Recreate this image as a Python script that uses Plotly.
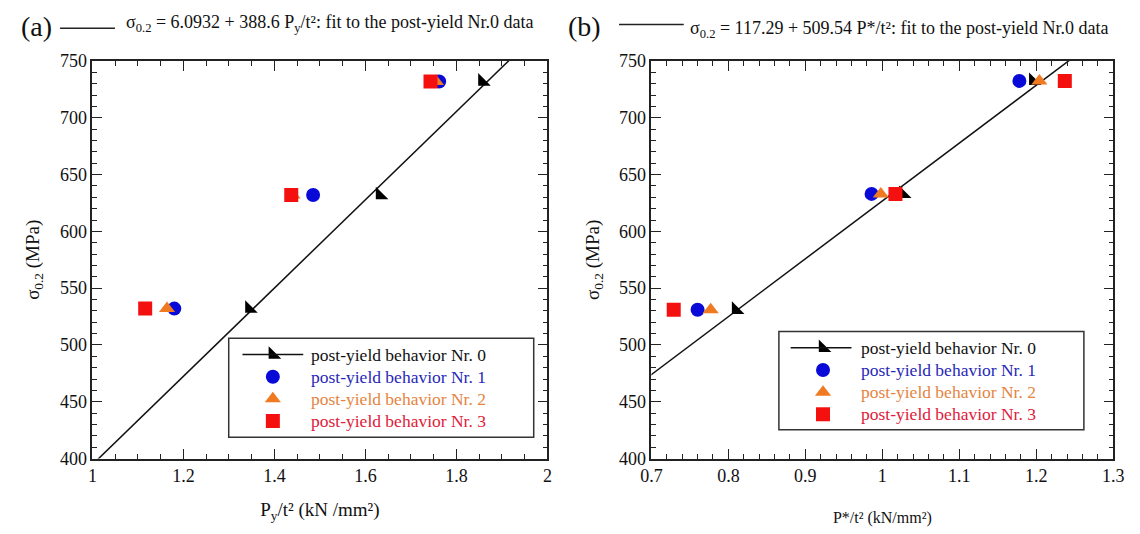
import plotly.graph_objects as go

W, H = 1140, 534

# ---------------- data ----------------
# panel (a): sigma_0.2 vs Py/t^2
a_y = [532, 632, 732]
a_x0 = [1.345, 1.632, 1.857]   # post-yield Nr. 0
a_x1 = [1.180, 1.485, 1.762]   # Nr. 1
a_x2 = [1.164, 1.440, 1.755]   # Nr. 2
a_x3 = [1.116, 1.437, 1.743]   # Nr. 3
fit_a_x = [0.9, 2.1]
fit_a_y = [355.83, 822.15]     # 6.0932 + 388.6 x

# panel (b): sigma_0.2 vs P*/t^2
b_y = [531, 633, 732.5]
b_x0 = [0.810, 1.027, 1.196]
b_x1 = [0.760, 0.986, 1.178]
b_x2 = [0.777, 0.998, 1.204]
b_x3 = [0.729, 1.017, 1.237]
fit_b_x = [0.6, 1.4]
fit_b_y = [423.01, 830.65]     # 117.29 + 509.54 x

names = ["post-yield behavior Nr. 0", "post-yield behavior Nr. 1",
         "post-yield behavior Nr. 2", "post-yield behavior Nr. 3"]

# ---------------- styles ----------------
FONT = "'Liberation Serif', 'Times New Roman', Times, serif"
MARK_COL = ["#000000", "#0a0ad8", "#f07a22", "#f51010"]
TEXT_COL = ["#111111", "#2828b8", "#e5843f", "#e0203a"]
SYM = ["triangle-sw", "circle", "triangle-up", "square"]
MSIZE = 14

fig = go.Figure()

def add_panel(xa, ya, fx, fy, xs, ys):
    fig.add_trace(go.Scatter(x=fx, y=fy, mode="lines", xaxis=xa, yaxis=ya,
                             line=dict(color="#111111", width=1.5),
                             showlegend=False, hoverinfo="skip"))
    for i in range(4):
        fig.add_trace(go.Scatter(x=xs[i], y=ys, mode="markers", xaxis=xa, yaxis=ya,
                                 marker=dict(symbol=SYM[i], size=MSIZE, color=MARK_COL[i]),
                                 name=names[i], showlegend=False))

add_panel("x", "y", fit_a_x, fit_a_y, [a_x0, a_x1, a_x2, a_x3], a_y)
add_panel("x2", "y2", fit_b_x, fit_b_y, [b_x0, b_x1, b_x2, b_x3], b_y)

# ---------------- legends (drawn on a pixel-unit overlay axis) ----------------
LEG = [
    dict(box=(222, 341, 533, 444), rows=(358, 381, 404, 427),
         line=(236, 298), mx=267, tx=305),
    dict(box=(783, 334, 1094, 436), rows=(351, 374, 397, 420),
         line=(795, 857), mx=828, tx=866),
]
for L in LEG:
    l, t, r, b = L["box"]
    fig.add_shape(type="rect", xref="x3", yref="y3", x0=l, x1=r, y0=t, y1=b,
                  line=dict(color="#333", width=1.5), fillcolor="white", layer="below")
    fig.add_shape(type="line", xref="x3", yref="y3", x0=L["line"][0], x1=L["line"][1],
                  y0=L["rows"][0], y1=L["rows"][0], line=dict(color="#111", width=1.5))
    for i in range(4):
        fig.add_trace(go.Scatter(x=[L["mx"]], y=[L["rows"][i]], mode="markers",
                                 xaxis="x3", yaxis="y3", showlegend=False, hoverinfo="skip",
                                 marker=dict(symbol=SYM[i], size=MSIZE, color=MARK_COL[i])))
        fig.add_annotation(xref="x3", yref="y3", x=L["tx"], y=L["rows"][i],
                           xanchor="left", yanchor="middle", showarrow=False, borderpad=0,
                           text=names[i],
                           font=dict(family=FONT, size=17.5, color=TEXT_COL[i]))

ytop, ybot = 1 - 53 / H, 1 - 466 / H
ax_common = dict(showgrid=False, zeroline=False, showline=True, linecolor="#222",
                 linewidth=1.5, mirror="allticks", ticks="inside", ticklen=10,
                 tickwidth=1.3, tickcolor="#222",
                 tickfont=dict(family=FONT, size=18, color="#111"))
minor_y = dict(dtick=10, ticks="inside", ticklen=5, tickcolor="#222", tickwidth=1.2)

fig.update_layout(
    width=W, height=H, margin=dict(l=0, r=0, t=0, b=0),
    paper_bgcolor="white", plot_bgcolor="rgba(0,0,0,0)",
    font=dict(family=FONT, color="#111"),
    showlegend=False,
    xaxis=dict(domain=[83 / W, 547 / W], range=[1, 2], dtick=0.2, anchor="y",
               minor=dict(dtick=0.05, ticks="inside", ticklen=5, tickcolor="#222", tickwidth=1.2),
               title=dict(text="P<sub>y</sub>/t² (kN /mm²)",
                          font=dict(family=FONT, size=19), standoff=18),
               **ax_common),
    yaxis=dict(domain=[ybot, ytop], range=[400, 750], dtick=50, anchor="x",
               minor=minor_y,
               title=dict(text="σ<sub>0.2</sub> (MPa)", font=dict(family=FONT, size=19),
                          standoff=15),
               **ax_common),
    xaxis2=dict(domain=[653 / W, 1124 / W], range=[0.7, 1.3], dtick=0.1, anchor="y2",
                minor=dict(dtick=0.02, ticks="inside", ticklen=5, tickcolor="#222", tickwidth=1.2),
                title=dict(text="P*/t² (kN/mm²)",
                           font=dict(family=FONT, size=16), standoff=27),
                **ax_common),
    yaxis2=dict(domain=[ybot, ytop], range=[400, 750], dtick=50, anchor="x2",
                minor=minor_y,
                title=dict(text="σ<sub>0.2</sub> (MPa)", font=dict(family=FONT, size=19),
                           standoff=14),
                **ax_common),
    xaxis3=dict(domain=[0, 1], range=[0, W], visible=False, anchor="y3", fixedrange=True),
    yaxis3=dict(domain=[0, 1], range=[H, 0], visible=False, anchor="x3", fixedrange=True),
)

anns = [
    dict(x=8 / W, y=1 - 17 / H, text="(a)", font=dict(family=FONT, size=28)),
    dict(x=115 / W, y=1 - 14 / H,
         text="σ<sub>0.2</sub> = 6.0932 + 388.6 P<sub>y</sub>/t²: fit to the post-yield Nr.0 data",
         font=dict(family=FONT, size=18)),
    dict(x=566 / W, y=1 - 17 / H, text="(b)", font=dict(family=FONT, size=28)),
    dict(x=690 / W, y=1 - 20 / H,
         text="σ<sub>0.2</sub> = 117.29 + 509.54 P*/t²: fit to the post-yield Nr.0 data",
         font=dict(family=FONT, size=18)),
]
for a in anns:
    fig.add_annotation(xref="paper", yref="paper", xanchor="left", yanchor="middle",
                       showarrow=False, **a)

fig.add_shape(type="line", xref="paper", yref="paper", x0=50 / W, x1=106 / W,
              y0=1 - 19 / H, y1=1 - 19 / H, line=dict(color="#222", width=1.5))
fig.add_shape(type="line", xref="paper", yref="paper", x0=620 / W, x1=686 / W,
              y0=1 - 15 / H, y1=1 - 15 / H, line=dict(color="#222", width=1.5))

fig.write_html("out.html")
